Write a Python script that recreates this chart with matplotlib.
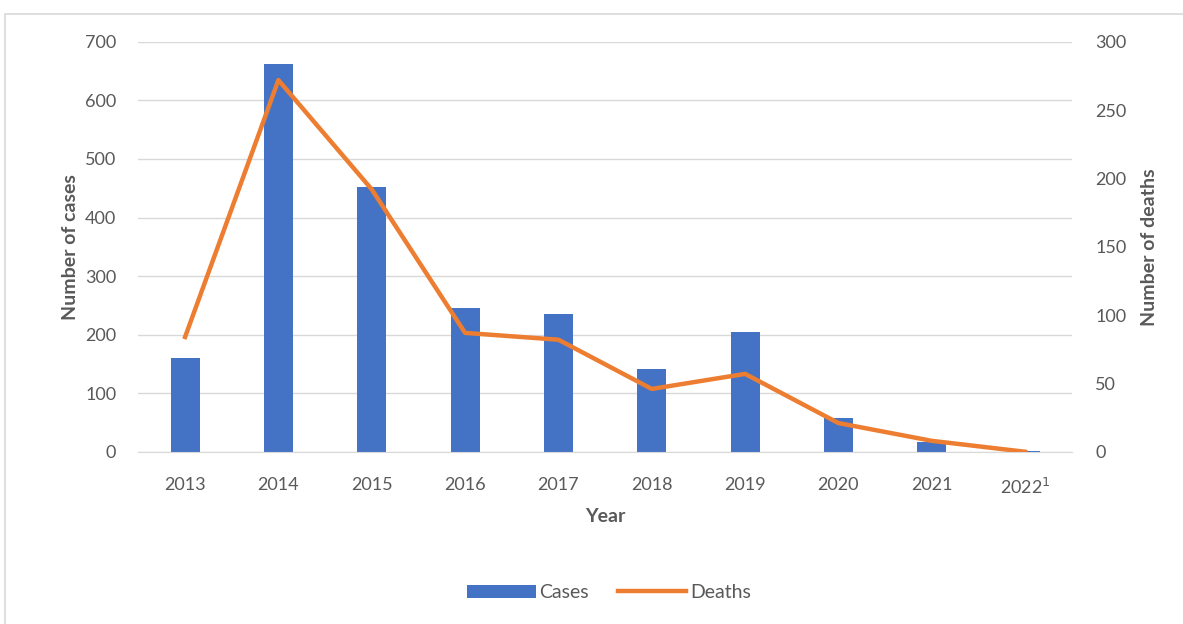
import matplotlib.pyplot as plt
from matplotlib.patches import Rectangle
import numpy as np

years = ['2013', '2014', '2015', '2016', '2017', '2018', '2019', '2020', '2021', '2022$^1$']
cases = [160, 662, 452, 246, 235, 141, 204, 57, 17, 2]
deaths = [84, 272, 192, 87, 82, 46, 57, 21, 8, 0]

plt.rcParams['font.family'] = ['Lato', 'DejaVu Sans']
grey = '#595959'

fig = plt.figure(figsize=(11.83, 6.24), dpi=100)
ax1 = fig.add_axes([0.117, 0.276, 0.789, 0.657])
ax2 = ax1.twinx()

# chart border
fig.patches.append(Rectangle((5 / 1183, -0.1), 1.2, 1 - 14 / 624 + 0.1, transform=fig.transFigure,
                             fill=False, edgecolor='#D9D9D9', linewidth=1.2, zorder=0))

x = np.arange(len(years))
ax1.bar(x, cases, width=0.31, color='#4472C4', label='Cases', zorder=2)
ax2.plot(x, deaths, color='#ED7D31', linewidth=3.2, label='Deaths', solid_joinstyle='round')

ax1.set_xlim(-0.5, len(years) - 0.5)
ax1.set_ylim(0, 700)
ax2.set_ylim(0, 300)
ax1.set_yticks(np.arange(0, 701, 100))
ax2.set_yticks(np.arange(0, 301, 50))
ax1.set_xticks(x)
ax1.set_xticklabels(years)

ax1.yaxis.grid(True, color='#D9D9D9', linewidth=1)
ax1.set_axisbelow(True)
for ax in (ax1, ax2):
    for s in ax.spines.values():
        s.set_visible(False)
ax1.spines['bottom'].set_visible(True)
ax1.spines['bottom'].set_color('#D9D9D9')
ax1.tick_params(axis='both', length=0, labelsize=13, labelcolor=grey)
ax1.tick_params(axis='y', pad=16)
ax1.tick_params(axis='x', pad=18)
ax2.tick_params(axis='y', length=0, labelsize=13, labelcolor=grey, pad=17)

ax1.set_xlabel('Year', fontsize=14, fontweight='bold', color=grey, labelpad=8)
ax1.set_ylabel('Number of cases', fontsize=14, fontweight='bold', color=grey, labelpad=4)
ax2.set_ylabel('Number of deaths', fontsize=14, fontweight='bold', color=grey, labelpad=10)

h1, l1 = ax1.get_legend_handles_labels()
h2, l2 = ax2.get_legend_handles_labels()
fig.legend(h1 + h2, l1 + l2, loc='center', bbox_to_anchor=(0.515, 0.05), ncol=2, frameon=False,
           fontsize=14, labelcolor=grey, handlelength=3.5, handletextpad=0.2, columnspacing=1.5)

plt.savefig('out.png', dpi=100)
